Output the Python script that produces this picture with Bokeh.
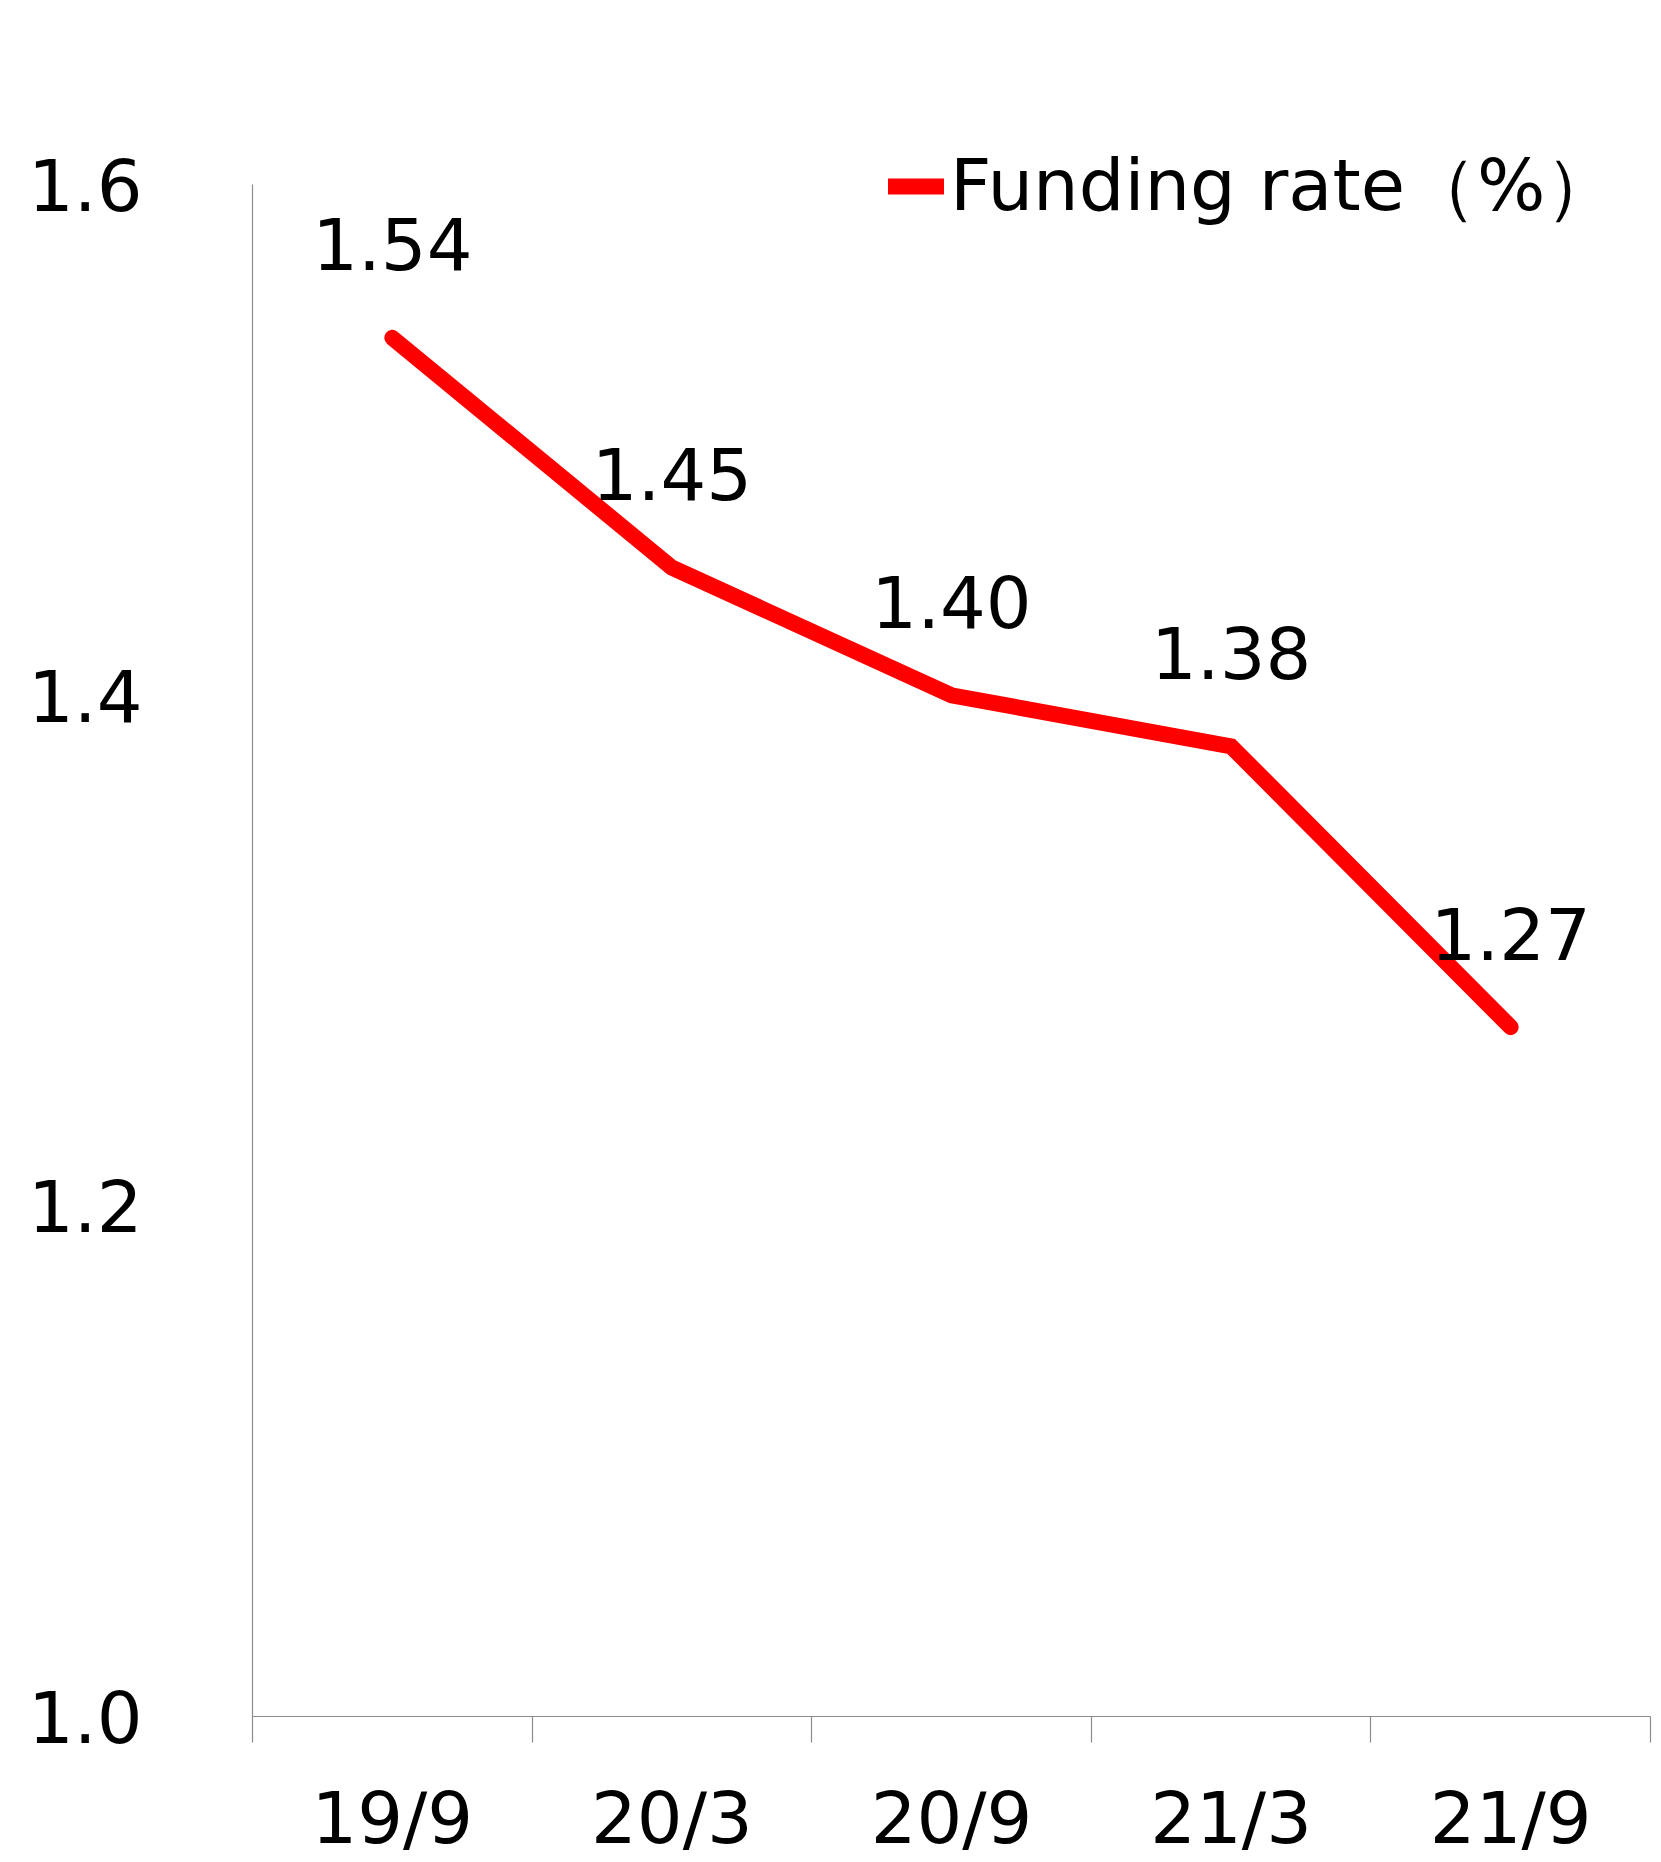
from bokeh.plotting import figure
from bokeh.models import Range1d, FixedTicker, Legend, LegendItem, ColumnDataSource
from bokeh.embed import file_html
from bokeh.resources import INLINE

# Funding rate by half-year period
periods = ["19/9", "20/3", "20/9", "21/3", "21/9"]
funding_rate = [1.54, 1.45, 1.40, 1.38, 1.27]
y_ticks = [1.0, 1.2, 1.4, 1.6]
series_name = "Funding rate（%）"

FONT = "DejaVu Sans"
TEXT_SIZE = "72px"
RED = "#ff0000"
AXIS_GREY = "#8c8c8c"

xs = list(range(len(periods)))
x_start, x_end = -0.5, len(periods) - 0.5

src = ColumnDataSource(dict(
    x=xs,
    y=funding_rate,
    label=[f"{v:.2f}" for v in funding_rate],
))

p = figure(
    width=1661, height=1862,
    output_backend="svg", toolbar_location=None,
    x_range=Range1d(x_start, x_end),
    y_range=Range1d(1.0, 1.64),
    min_border_left=252, min_border_right=11,
    min_border_top=82, min_border_bottom=145,
    outline_line_color=None,
    background_fill_color="white", border_fill_color="white",
)
p.grid.visible = False

line = p.line("x", "y", source=src, line_color=RED, line_width=16,
              line_cap="round", line_join="miter")

# value labels above each point
p.text("x", "y", text="label", source=src, y_offset=-94,
       text_align="center", text_baseline="middle",
       text_font_size=TEXT_SIZE, text_color="black",
       text_font={"value": FONT})

# y axis: plain line from 1.0 to 1.6, labels only, no tick marks
ya = p.yaxis[0]
ya.ticker = FixedTicker(ticks=y_ticks)
ya.bounds = (y_ticks[0], y_ticks[-1])
ya.major_label_overrides = {t: f"{t:.1f}" for t in y_ticks}
ya.major_tick_out = 0
ya.major_tick_in = 0
ya.minor_tick_out = 0
ya.minor_tick_in = 0
ya.axis_line_color = AXIS_GREY
ya.axis_line_width = 1.2
ya.major_label_standoff = 110
ya.major_label_text_font = FONT
ya.major_label_text_font_size = TEXT_SIZE
ya.major_label_text_color = "black"

# x axis: period labels at band centres, tick marks between bands
xa = p.xaxis[0]
bounds_ticks = [i - 0.5 for i in range(len(periods) + 1)]
xa.ticker = FixedTicker(ticks=xs, minor_ticks=bounds_ticks)
xa.major_label_overrides = {i: lab for i, lab in enumerate(periods)}
xa.major_tick_out = 0
xa.major_tick_in = 0
xa.minor_tick_out = 26
xa.minor_tick_in = 0
xa.minor_tick_line_color = AXIS_GREY
xa.minor_tick_line_width = 1.2
xa.axis_line_color = AXIS_GREY
xa.axis_line_width = 1.2
xa.major_label_standoff = 33
xa.major_label_text_font = FONT
xa.major_label_text_font_size = TEXT_SIZE
xa.major_label_text_color = "black"

legend = Legend(
    items=[LegendItem(label=series_name, renderers=[line])],
    location=(636, 1482),
    orientation="horizontal",
    glyph_width=56, glyph_height=20,
    label_standoff=6, padding=0, margin=0, spacing=0,
    label_text_font=FONT, label_text_font_size=TEXT_SIZE,
    label_text_color="black",
    border_line_alpha=0, background_fill_alpha=0,
)
p.add_layout(legend)

open("out.html", "w").write(file_html(p, INLINE))
